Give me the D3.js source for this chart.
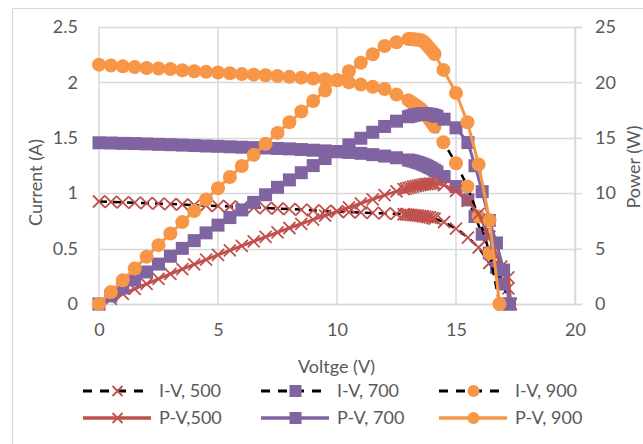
<!DOCTYPE html>
<html><head><meta charset="utf-8">
<script src="https://cdn.jsdelivr.net/npm/d3@7"></script>
<style>
html,body{margin:0;padding:0;background:#fff;}
svg text{font-family:Lato,"Open Sans",sans-serif;fill:#595959;}
</style></head>
<body><svg id="c" width="643" height="444"></svg>
<script>
// ---- data ----
const xTicks = [0, 5, 10, 15, 20];
const currentTicks = [0, 0.5, 1, 1.5, 2, 2.5];
const powerTicks = [0, 5, 10, 15, 20, 25];

const V500 = [0,0.5,1,1.5,2,2.5,3,3.5,4,4.5,5,5.5,6,6.5,7,7.5,8,8.5,9,9.5,10,10.5,11,11.5,12,12.5,
  12.8,12.9,13.0,13.1,13.2,13.3,13.4,13.5,13.6,13.7,13.8,13.9,14.0,14.1,
  14.5,15,15.5,15.95,16.4,16.9,17.2,17.3];
const I500 = [0.925,0.921,0.918,0.914,0.910,0.906,0.902,0.898,0.893,0.889,0.885,0.880,0.875,0.871,0.866,0.862,0.857,0.852,0.846,0.840,0.835,0.830,0.826,0.822,0.818,0.813,
  0.810,0.808,0.806,0.804,0.802,0.800,0.797,0.795,0.792,0.789,0.785,0.781,0.776,0.771,
  0.74,0.68,0.60,0.51,0.37,0.20,0.14,0];
const P500 = [0,0.46,0.92,1.37,1.82,2.27,2.71,3.14,3.57,4.00,4.43,4.84,5.25,5.66,6.06,6.47,6.86,7.24,7.61,7.98,8.35,8.72,9.09,9.45,9.82,10.16,
  10.37,10.42,10.48,10.53,10.59,10.64,10.68,10.73,10.77,10.81,10.83,10.86,10.86,10.87,
  10.73,10.2,9.3,8.13,6.07,3.38,2.41,0];

const V700 = [0,0.5,1,1.5,2,2.5,3,3.5,4,4.5,5,5.5,6,6.5,7,7.5,8,8.5,9,9.5,10,10.5,11,11.5,12,12.5,13,
  13.1,13.2,13.3,13.4,13.5,13.6,13.7,13.8,13.9,14.0,14.1,14.2,
  14.5,15,15.5,15.8,16.1,16.4,16.7,17.0,17.25];
const I700 = [1.455,1.453,1.450,1.448,1.445,1.441,1.438,1.434,1.430,1.426,1.423,1.419,1.415,1.411,1.408,1.404,1.400,1.394,1.388,1.382,1.375,1.368,1.360,1.348,1.335,1.320,1.300,
  1.295,1.290,1.283,1.277,1.270,1.262,1.253,1.243,1.232,1.220,1.207,1.193,
  1.15,1.06,0.94,0.79,0.63,0.46,0.33,0.18,0];
const P700 = [0,0.73,1.45,2.17,2.89,3.60,4.31,5.02,5.72,6.42,7.12,7.80,8.49,9.17,9.86,10.53,11.20,11.85,12.49,13.13,13.75,14.36,14.96,15.50,16.02,16.50,16.90,
  16.96,17.03,17.06,17.11,17.15,17.16,17.17,17.15,17.12,17.08,17.02,16.94,
  16.68,15.9,14.57,12.48,10.14,7.54,5.51,3.06,0];

const V900 = [0,0.5,1,1.5,2,2.5,3,3.5,4,4.5,5,5.5,6,6.5,7,7.5,8,8.5,9,9.5,10,10.5,11,11.5,12,12.5,13,
  13.1,13.2,13.3,13.4,13.5,13.6,13.7,13.8,13.9,14.0,14.1,
  14.47,15,15.48,15.95,16.41,16.83];
const I900 = [2.160,2.152,2.145,2.138,2.130,2.125,2.120,2.110,2.100,2.095,2.090,2.083,2.075,2.070,2.065,2.058,2.050,2.043,2.035,2.028,2.020,2.000,1.980,1.960,1.940,1.890,1.840,
  1.825,1.810,1.795,1.780,1.765,1.745,1.720,1.690,1.660,1.630,1.600,
  1.46,1.27,1.06,0.79,0.46,0];
const P900 = [0,1.08,2.15,3.21,4.26,5.31,6.36,7.39,8.40,9.43,10.45,11.46,12.45,13.46,14.46,15.44,16.40,17.37,18.32,19.27,20.20,21.00,21.78,22.54,23.28,23.63,23.92,
  23.91,23.89,23.87,23.85,23.83,23.73,23.56,23.32,23.07,22.82,22.56,
  21.13,19.05,16.41,12.60,7.55,0];

const seriesNames = ["I-V, 500","I-V, 700","I-V, 900","P-V,500","P-V, 700","P-V, 900"];
const colors = {red:"#C0504D", purple:"#8064A2", orange:"#F79646"};

// ---- layout ----
const svg = d3.select("#c");
const X0 = 99, X1 = 575, Y0 = 304, Y1 = 27;
const x = d3.scaleLinear().domain([0,20]).range([X0,X1]);
const yI = d3.scaleLinear().domain([0,2.5]).range([Y0,Y1]);
const yP = d3.scaleLinear().domain([0,25]).range([Y0,Y1]);
const grid = "#D9D9D9";

// chart border
svg.append("line").attr("x1",12.5).attr("x2",643).attr("y1",8.5).attr("y2",8.5).attr("stroke",grid).attr("stroke-width",1.2);
svg.append("line").attr("x1",12.5).attr("x2",12.5).attr("y1",8.5).attr("y2",444).attr("stroke",grid).attr("stroke-width",1.2);

// gridlines
const g = svg.append("g");
g.selectAll(".hg").data(currentTicks).join("line")
  .attr("x1",X0).attr("x2",X1).attr("y1",d=>Math.round(yI(d))+0.5).attr("y2",d=>Math.round(yI(d))+0.5)
  .attr("stroke",grid).attr("stroke-width",1.5);
g.selectAll(".vg").data(xTicks).join("line")
  .attr("x1",d=>x(d)).attr("x2",d=>x(d)).attr("y1",Y1).attr("y2",Y0)
  .attr("stroke",grid).attr("stroke-width",1.5);

// axes
const fmt = d => String(d);
const axL = svg.append("g").attr("transform",`translate(${X0},0)`)
  .call(d3.axisLeft(yI).tickValues(currentTicks).tickFormat(fmt).tickSize(0).tickPadding(21));
const axR = svg.append("g").attr("transform",`translate(${X1},0)`)
  .call(d3.axisRight(yP).tickValues(powerTicks).tickFormat(fmt).tickSize(7).tickPadding(13));
const axB = svg.append("g").attr("transform",`translate(0,${Y0})`)
  .call(d3.axisBottom(x).tickValues(xTicks).tickFormat(fmt).tickSize(0).tickPadding(19));
[axL,axR,axB].forEach(a=>{
  a.select(".domain").attr("stroke",grid).attr("stroke-width",1.5);
  a.selectAll(".tick line").attr("stroke",grid).attr("stroke-width",1.5);
  a.selectAll("text").style("font-size","18px").attr("fill","#595959");
});
axL.select(".domain").remove();

// axis titles
svg.append("text").attr("x",336.5).attr("y",367).attr("dy","0.35em").attr("text-anchor","middle")
  .style("font-size","18px").text("Voltge (V)");
svg.append("text").attr("transform","translate(36,182.5) rotate(-90)").attr("dy","0.35em").attr("text-anchor","middle")
  .style("font-size","18px").text("Current (A)");
svg.append("text").attr("transform","translate(634,167) rotate(-90)").attr("dy","0.35em").attr("text-anchor","middle")
  .style("font-size","18px").text("Power (W)");

// marker helpers
function drawMarker(sel, kind, color, cx, cy, big){
  if(kind==="x"){
    const s = big?6:5;
    sel.append("path").attr("d",`M${cx-s},${cy-s}L${cx+s},${cy+s}M${cx-s},${cy+s}L${cx+s},${cy-s}`)
      .attr("stroke",color).attr("stroke-width",1.8).attr("fill","none");
  } else if(kind==="sq"){
    const s = big?6.5:6;
    sel.append("rect").attr("x",cx-s).attr("y",cy-s).attr("width",2*s).attr("height",2*s).attr("fill",color);
  } else {
    sel.append("circle").attr("cx",cx).attr("cy",cy).attr("r",big?7:6).attr("fill",color);
  }
}

const series = [
  {name:seriesNames[0], V:V500, Y:I500, scale:yI, kind:"x",  color:colors.red,    dashed:true},
  {name:seriesNames[1], V:V700, Y:I700, scale:yI, kind:"sq", color:colors.purple, dashed:true},
  {name:seriesNames[2], V:V900, Y:I900, scale:yI, kind:"o",  color:colors.orange, dashed:true},
  {name:seriesNames[3], V:V500, Y:P500, scale:yP, kind:"x",  color:colors.red,    dashed:false},
  {name:seriesNames[4], V:V700, Y:P700, scale:yP, kind:"sq", color:colors.purple, dashed:false},
  {name:seriesNames[5], V:V900, Y:P900, scale:yP, kind:"o",  color:colors.orange, dashed:false}
];

const plot = svg.append("g");
series.forEach(s=>{
  const pts = s.V.map((v,i)=>[v,s.Y[i]]);
  const line = d3.line().x(d=>x(d[0])).y(d=>s.scale(d[1]));
  const gs = plot.append("g");
  gs.append("path").attr("d",line(pts)).attr("fill","none")
    .attr("stroke", s.dashed ? "#000" : s.color)
    .attr("stroke-width", s.dashed ? 2.5 : 3)
    .attr("stroke-dasharray", s.dashed ? "8,6" : null)
    .attr("stroke-linejoin","round");
  pts.forEach(p=>drawMarker(gs, s.kind, s.color, x(p[0]), s.scale(p[1]), true));
});

// legend
const legCols = [83, 261, 439];
const legRows = [391, 418];
series.forEach((s,i)=>{
  const col = i%3, row = Math.floor(i/3);
  const lx = legCols[col], ly = legRows[row];
  const lg = svg.append("g");
  lg.append("line").attr("x1",lx).attr("x2",lx+68).attr("y1",ly).attr("y2",ly)
    .attr("stroke", s.dashed ? "#000" : s.color)
    .attr("stroke-width", s.dashed ? 3 : 3.5)
    .attr("stroke-dasharray", s.dashed ? "9,8" : null);
  drawMarker(lg, s.kind, s.color, lx+34.5, ly, false);
  lg.append("text").attr("x",lx+76).attr("y",ly).attr("dy","0.35em").style("font-size","18px").text(s.name);
});
</script></body></html>
